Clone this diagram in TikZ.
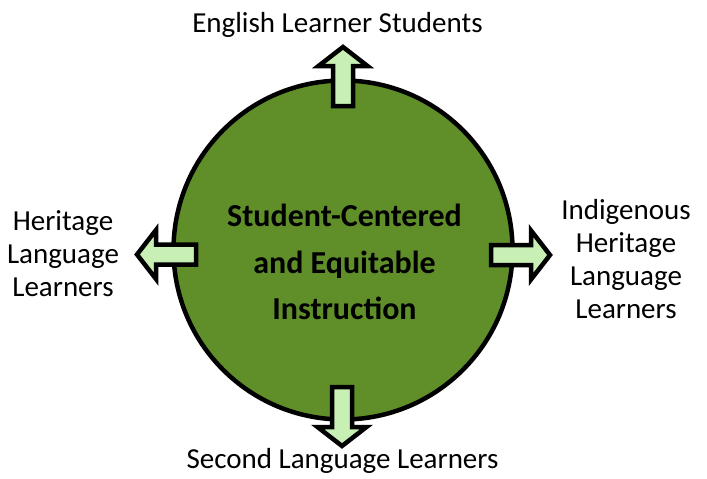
\documentclass[tikz,border=0pt]{standalone}
\usepackage{fontspec}
\setmainfont{Carlito}
\usetikzlibrary{positioning}

\definecolor{hubgreen}{RGB}{96,143,42}
\definecolor{arrowgreen}{RGB}{200,240,180}

\tikzset{
  arrowline/.style={draw=black, line width=4.5pt, fill=arrowgreen, line join=miter},
  blockarrow/.pic={
    \path[arrowline] (0,-10) -- (40,-10) -- (40,-24.5) -- (59,0) -- (40,24.5) -- (40,10) -- (0,10) -- cycle;
  },
  learner/.style={font=\fontsize{29}{33}\selectfont, align=center, inner sep=0pt},
}

\begin{document}
\begin{tikzpicture}[x=1pt, y=-1pt]
            \useasboundingbox (0,0) rectangle (707,479);

            % Draw the circle
            \node[circle, draw, line width=4.5pt, fill=hubgreen, minimum size=339pt, inner sep=0pt] (hub) at (343,250) {};

            % Draw the arrows
            \pic[rotate=90] at (343,106) {blockarrow};
            \pic[rotate=180] at (196,254.5) {blockarrow};
            \pic at (491,255) {blockarrow};
            \pic[rotate=-90] at (342,387) {blockarrow};

            % Draw the labels
            \node[font=\bfseries\fontsize{32}{46.5}\selectfont, align=center, inner sep=0pt] (hubtext) at (344.5,262) {Student-Centered\\and Equitable\\Instruction};
            \node[learner, anchor=base] (english) at (337.5,32) {English Learner Students};
            \node[learner] (heritage) at (63,254) {Heritage\\Language\\Learners};
            \node[learner] (indigenous) at (626,259.5) {Indigenous\\Heritage\\Language\\Learners};
            \node[learner, anchor=base] (second) at (342.5,468) {Second Language Learners};
        \end{tikzpicture}
\end{document}
